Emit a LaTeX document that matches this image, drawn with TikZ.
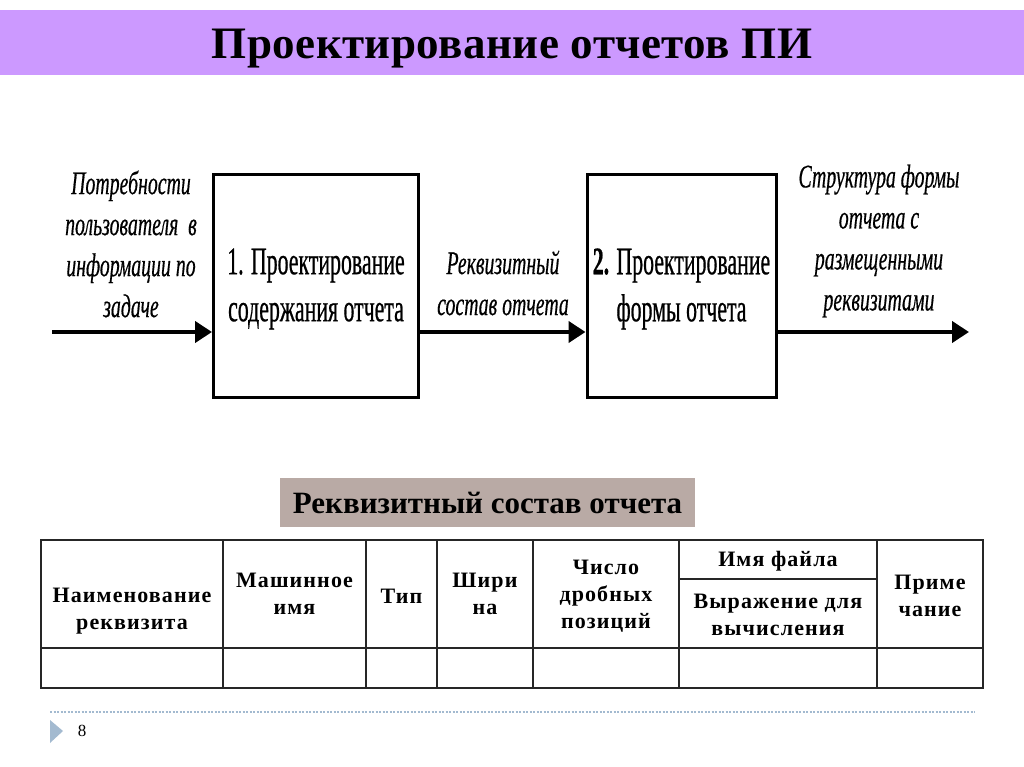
\documentclass[tikz,border=0pt]{standalone}
\usepackage{fontspec}
\setmainfont{Liberation Serif}
\newfontfamily\titlef[LetterSpace=1]{Liberation Serif}
\newfontfamily\boxf[FakeStretch=0.56,FakeBold=0.5]{Liberation Serif}
\newfontfamily\labf[FakeStretch=0.6,FakeBold=0.4]{Liberation Serif}
\newfontfamily\tabf[LetterSpace=5]{Liberation Serif}
\usetikzlibrary{arrows.meta}
\definecolor{barviolet}{RGB}{204,153,255}
\definecolor{greybox}{RGB}{185,170,165}
\definecolor{footblue}{RGB}{163,186,208}
\tikzset{
  procbox/.style={draw=black, line width=3pt, fill=white, minimum width=205pt, minimum height=222pt, inner sep=0pt},
  boxtext/.style={align=center, font=\boxf\fontsize{39}{47}\selectfont},
  labtext/.style={align=center, font=\labf\itshape\fontsize{33}{41}\selectfont},
  flow/.style={line width=4pt, -{Triangle[length=17pt,width=21pt]}},
  tabline/.style={line width=1.6pt, draw=black!85},
  tabtext/.style={align=center, font=\tabf\bfseries\fontsize{22}{27}\selectfont, inner sep=0pt},
}
\begin{document}
\begin{tikzpicture}[x=1pt,y=-1pt]
\useasboundingbox (0,0) rectangle (1024,767);
\fill[white] (0,0) rectangle (1024,767);
% title bar
\fill[barviolet] (0,10) rectangle (1024,75);
\node[anchor=base, font=\titlef\bfseries\fontsize{45}{50}\selectfont] (title) at (512,59) {Проектирование отчетов ПИ};
% boxes
\node[procbox] (b1) at (316,286) {};
\node[boxtext] (t1) at (316,289) {1. Проектирование\\содержания отчета};
\node[procbox, minimum width=189pt] (b2) at (681.5,286) {};
\node[boxtext] (t2) at (681.5,289) {\textbf{2.} Проектирование\\формы отчета};
% arrows
\coordinate (in) at (52,332);
\coordinate (out) at (969,332);
\draw[flow] (in) -- (in -| b1.west);
\draw[flow] (b1.east |- in) -- (in -| b2.west);
\draw[flow] (b2.east |- in) -- (out);
% labels
\node[labtext] (lin) at (131,244) {Потребности\\пользователя \ в\\информации по\\задаче};
\node[labtext] (lmid) at (503,283) {Реквизитный\\состав отчета};
\node[labtext] (lout) at (879,241) {Структура формы\\отчета с\\размещенными\\реквизитами};
% grey label
\node[fill=greybox, minimum width=415pt, minimum height=49pt, inner sep=0pt, font=\bfseries\fontsize{31}{34}\selectfont] (cap) at (487.5,502.5) {Реквизитный состав отчета};
% table
\draw[tabline] (41,540) rectangle (983,688);
\draw[tabline] (41,648) -- (983,648);
\foreach \x in {223,366,437,533,679,877} \draw[tabline] (\x,540) -- (\x,688);
\draw[tabline] (679,579) -- (877,579);
\node[tabtext] (h1) at (132,611) {Наименование\\реквизита};
\node[tabtext] (h2) at (294.5,594) {Машинное\\имя};
\node[tabtext] (h3) at (401.5,596) {Тип};
\node[tabtext] (h4) at (485,594) {Шири\\на};
\node[tabtext] (h5) at (606,596) {Число\\дробных\\позиций};
\node[tabtext] (h6) at (778,561) {Имя файла};
\node[tabtext] (h7) at (778,615) {Выражение для\\вычисления};
\node[tabtext] (h8) at (930,596) {Приме\\чание};
% footer
\draw[footblue, line width=1.5pt, dash pattern=on 2pt off 1.5pt] (50,712) -- (975,712);
\fill[footblue] (50,720) -- (63,731) -- (50,743) -- cycle;
\node[font=\fontsize{17}{20}\selectfont] (pg) at (82,731) {8};
\end{tikzpicture}
\end{document}
